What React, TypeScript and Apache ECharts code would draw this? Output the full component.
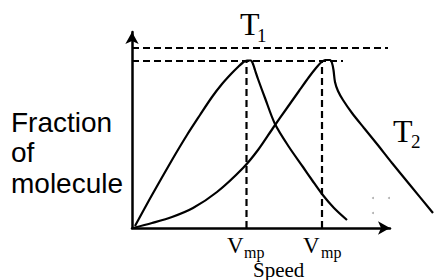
import React, { useEffect, useRef } from "react";
import * as echarts from "echarts";

// speed (x) vs fraction of molecules (y), arbitrary units
const curveT1: number[][] = [
  [3, 2], [20, 33], [40, 68], [55, 93], [68, 113], [80, 131], [90, 144], [99, 154], [106, 161],
  [111, 165.5], [115, 167.5], [119, 167.5], [121, 164], [123, 158], [126, 149], [133, 130],
  [143, 104], [157, 81], [171, 61], [180, 48], [190, 34], [202, 20], [215, 8],
];
const curveT2: number[][] = [
  [1, 0], [20, 5], [40, 11], [61, 20], [85, 36], [111, 60], [126, 78], [141, 100], [155, 120],
  [167, 137], [177, 151], [184, 160], [189, 165.5], [193, 168], [198, 168], [200, 165],
  [201.5, 158], [203, 146], [206, 137], [211, 128], [220, 115], [232, 100], [245, 84],
  [260, 65], [278, 43], [301, 15],
];
const vmpT1 = 114.5;
const vmpT2 = 190;
const peakLevel = 167;
const upperLevel = 180;
const upperEnd = 256;
const lowerEnd = 211;
const strayDots: number[][] = [[241, 30], [257, 30], [241, 15]];

const xAxisMax = 258;
const xCurveMax = 302;
const yMax = 196;

export default function App() {
  const ref = useRef<HTMLDivElement>(null);
  useEffect(() => {
    if (!ref.current) return;
    const chart = echarts.init(ref.current, undefined, { renderer: "svg" });
    const sans = "Liberation Sans, Arial, sans-serif";
    const serif = "Liberation Serif, Times New Roman, serif";
    const dash = { type: [7, 4] as any, width: 2.2, color: "#000" };
    const txt = (text: string, x: number, y: number, size: number, font: string, lh?: number) => ({
      type: "text",
      x,
      y,
      style: {
        text, fontSize: size, fontFamily: font, fill: "#000", verticalAlign: "middle", align: "left",
        lineHeight: lh ?? Math.round(size * 1.15),
      },
    });
    const hiddenAxis = {
      axisLine: { show: false }, axisTick: { show: false }, axisLabel: { show: false }, splitLine: { show: false },
    };
    const arrowAxis = {
      axisLine: { show: true, symbol: ["none", "arrow"], symbolSize: [10, 12], lineStyle: { color: "#000", width: 2.5 } },
      axisTick: { show: false }, axisLabel: { show: false }, splitLine: { show: false },
    };
    chart.setOption({
      animation: false,
      backgroundColor: "#fff",
      grid: [
        { left: 132, top: 32, width: 258, height: 196 },
        { left: 132, top: 32, width: 302, height: 196 },
      ],
      xAxis: [
        { type: "value", min: 0, max: xAxisMax, gridIndex: 0, ...arrowAxis },
        { type: "value", min: 0, max: xCurveMax, gridIndex: 1, ...hiddenAxis },
      ],
      yAxis: [
        { type: "value", min: 0, max: yMax, gridIndex: 0, ...arrowAxis },
        { type: "value", min: 0, max: yMax, gridIndex: 1, ...hiddenAxis },
      ],
      series: [
        { type: "line", xAxisIndex: 1, yAxisIndex: 1, data: curveT1, smooth: 0.3, symbol: "none", lineStyle: { color: "#000", width: 2.2 } },
        { type: "line", xAxisIndex: 1, yAxisIndex: 1, data: curveT2, smooth: 0.3, symbol: "none", lineStyle: { color: "#000", width: 2.2 } },
        { type: "line", data: [[0, upperLevel], [upperEnd, upperLevel]], symbol: "none", lineStyle: dash },
        { type: "line", data: [[0, peakLevel], [lowerEnd, peakLevel]], symbol: "none", lineStyle: dash },
        { type: "line", data: [[vmpT1, 0], [vmpT1, peakLevel]], symbol: "none", lineStyle: dash },
        { type: "line", data: [[vmpT2, 0], [vmpT2, peakLevel]], symbol: "none", lineStyle: dash },
        { type: "scatter", data: strayDots, symbolSize: 2, itemStyle: { color: "#999" } },
      ],
      graphic: [
        txt("Fraction", 11, 122.7, 28, sans),
        txt("of", 11, 152.7, 28, sans),
        txt("molecule", 11, 183.7, 28, sans),
        txt("T", 240, 24, 32, serif, 24),
        txt("1", 257, 35.7, 19, serif, 12),
        txt("T", 393, 131, 32, serif, 24),
        txt("2", 411, 141.7, 19, serif, 12),
        txt("V", 227, 245.4, 23, serif, 17),
        txt("mp", 244, 252.7, 16, serif, 11),
        txt("V", 303, 245.4, 23, serif, 17),
        txt("mp", 321, 252.7, 16, serif, 11),
        txt("Speed", 253, 269.5, 21, serif, 16),
      ],
    });
    return () => chart.dispose();
  }, []);
  return <div ref={ref} style={{ position: "fixed", left: 0, top: 0, width: 434, height: 280 }} />;
}
